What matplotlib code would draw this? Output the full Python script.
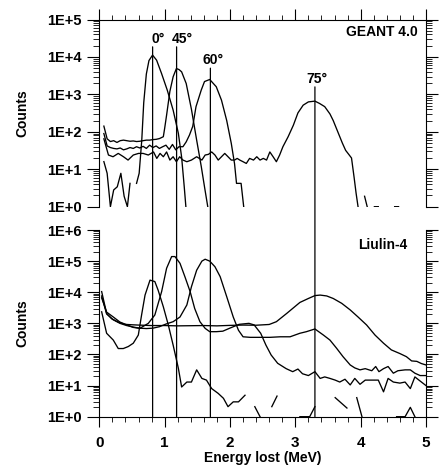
import numpy as np
import matplotlib
matplotlib.use("Agg")
import matplotlib.pyplot as plt
from matplotlib.ticker import FixedLocator, LogLocator, NullFormatter, MultipleLocator
from matplotlib.patches import ConnectionPatch

nan = np.nan

# ---------------- GEANT 4.0 (top panel) ----------------
geant_0_E = [0.07, 0.12, 0.17, 0.22, 0.275, 0.33, 0.38, 0.43, 0.47, 0.52, 0.57, 0.61, 0.65, 0.68,
             0.72, 0.76, 0.815, 0.877, 0.953, 1.04, 1.13, 1.21, 1.26, 1.30, 1.325]
geant_0_N = [16, 7.8, 1, 2.8, 3.4, 7.8, 1.9, 1, 4.2, nan, 4.2, 7.8, 60, 600,
             3500, 8000, 11200, 8200, 3600, 1300, 380, 91, 21, 3.4, 1]

geant_45_E = [0.07, 0.12, 0.17, 0.22, 0.27, 0.32, 0.37, 0.42, 0.47, 0.52, 0.57, 0.62, 0.67, 0.72,
              0.77, 0.82, 0.87, 0.92, 0.98, 1.00, 1.03, 1.08, 1.13, 1.18, 1.22, 1.26, 1.33, 1.41,
              1.49, 1.56, 1.61, 1.66]
geant_45_N = [142, 65, 55, 58, 52, 58, 60, 58, 56, 57, 55, 56, 58, 60,
              60, 62, 63, 66, 74, 123, 280, 1200, 2950, 4900, 4600, 4000, 1950, 400,
              60, 12, 3.4, 1]

geant_60_E = [0.07, 0.12, 0.17, 0.22, 0.27, 0.32, 0.37, 0.42, 0.47, 0.52, 0.57, 0.62, 0.67, 0.72,
              0.77, 0.82, 0.87, 0.92, 0.97, 1.02, 1.07, 1.12, 1.17, 1.22, 1.28, 1.33, 1.38, 1.43,
              1.48, 1.56, 1.61, 1.69, 1.79, 1.87, 1.95, 2.02, 2.07, 2.10, 2.17, 2.21]
geant_60_N = [90, 42, 38, 36, 35, 37, 33, 35, 38, 36, 40, 37, 41, 36,
              44, 38, 42, 36, 40, 44, 34, 46, 33, 40, 40, 54, 82, 140,
              470, 1300, 2200, 2500, 1600, 700, 200, 49, 14, 4.2, 4.2, 1]

geant_75_E = [0.07, 0.14, 0.21, 0.29, 0.37, 0.44, 0.52, 0.60, 0.67, 0.75, 0.83, 0.88, 0.93, 0.98,
              1.03, 1.08, 1.13, 1.18, 1.23, 1.28, 1.34, 1.41, 1.49, 1.57, 1.62, 1.67, 1.72, 1.77,
              1.82, 1.87, 1.92, 1.97, 2.02, 2.07, 2.11, 2.15, 2.20, 2.25, 2.30, 2.36, 2.41, 2.46,
              2.51, 2.56, 2.61, 2.66, 2.71, 2.76, 2.81, 2.89, 2.97, 3.04, 3.12, 3.20, 3.30, 3.37,
              3.45, 3.53, 3.58, 3.65, 3.72, 3.77, 3.81, 3.86, 3.90, 3.93, 3.96, 4.00, 4.06, 4.10,
              4.15, 4.21, 4.27, 4.32, 4.52, 4.58]
geant_75_N = [65, 24, 21.6, 26.5, 21.6, 17.6, 24, 26.5, 26.5, 24, 29, 19.5, 26.5, 21.6,
              29, 17.6, 21.6, 15.9, 21.6, 17.6, 15.9, 17.6, 21.6, 17.6, 24, 25, 29, 24,
              17.6, 21.6, 26.5, 21.6, 17.6, 17.6, 19.5, 17.6, 15.9, 14.3, 19.5, 17.6, 21.6, 17.6,
              19.5, 17.6, 29, 21.6, 15.9, 24, 40, 74, 150, 320, 515, 630, 660, 573,
              470, 300, 200, 100, 50, 32, 26, 20, 6, 2.3, 1, nan, 1.9, 1,
              nan, 1, 1, nan, 1, 1]

# ---------------- Liulin-4 (bottom panel) ----------------
liulin_0_E = [0.036, 0.112, 0.214, 0.29, 0.367, 0.444, 0.52, 0.597, 0.648, 0.70, 0.776, 0.85, 0.90,
              0.98, 1.056, 1.13, 1.21, 1.26, 1.34, 1.41, 1.49, 1.57, 1.64, 1.72, 1.82, 1.90, 1.97,
              2.05, 2.13, 2.23, 2.30, 2.38, 2.46, 2.55, 2.64, 2.72, 2.90, 3.07, 3.22, 3.30, 3.45,
              3.61, 3.79, 3.86, 3.94, 4.02, 4.30, 4.55, 4.68, 4.76, 4.83]
liulin_0_N = [2350, 480, 290, 155, 155, 180, 230, 420, 1900, 8100, 24500, 22000, 11700,
              3400, 890, 200, 36, 9, 13, 13, 32, 17, 15, 8, 5.6, 3.9, 2.1,
              3, 3, 4.9, nan, 2.1, 1, nan, 2.1, 4.6, nan, 1, 1, 2.1, nan,
              4.1, 1.9, nan, 4.1, 1, nan, 1, 1, 2, 1]

liulin_45_E = [0.036, 0.112, 0.214, 0.316, 0.418, 0.52, 0.62, 0.75, 0.85, 0.954, 1.03, 1.107, 1.158,
               1.235, 1.31, 1.39, 1.46, 1.54, 1.62, 1.69, 1.79, 1.89, 1.99, 2.14, 2.29, 2.37, 2.47,
               2.55, 2.63, 2.73, 2.86, 2.96, 3.04, 3.11, 3.20, 3.30, 3.38, 3.45, 3.53, 3.61, 3.68,
               3.76, 3.84, 3.91, 3.99, 4.07, 4.17, 4.27, 4.35, 4.42, 4.50, 4.60, 4.68, 4.76, 4.83,
               4.91, 5.0]
liulin_45_N = [6600, 2300, 1600, 1100, 900, 740, 690, 1000, 1860, 10500, 59000, 140000, 140000,
               85000, 31600, 10500, 3000, 1130, 690, 540, 540, 560, 690, 930, 1000, 890, 480,
               200, 96, 52, 35, 28, 34, 24, 21, 28, 17, 19, 17, 15, 13,
               16, 10.5, 17, 11, 15, 15, 15, 6.3, 17, 13, 12, 13, 8, 19,
               14, 10]

liulin_60_E = [0.036, 0.112, 0.214, 0.316, 0.418, 0.52, 0.62, 0.72, 0.82, 0.92, 1.02, 1.13, 1.235,
               1.34, 1.41, 1.49, 1.57, 1.62, 1.69, 1.77, 1.85, 1.95, 2.05, 2.13, 2.20, 2.31, 2.46,
               2.61, 2.77, 2.92, 3.07, 3.17, 3.30, 3.43, 3.53, 3.63, 3.73, 3.84, 3.91, 3.99, 4.07,
               4.17, 4.23, 4.28, 4.35, 4.42, 4.50, 4.57, 4.68, 4.76, 4.83, 4.91, 5.0]
liulin_60_N = [7600, 2000, 1300, 1000, 850, 760, 700, 680, 700, 780, 950, 1130, 1600,
               3900, 15000, 51000, 100000, 115000, 100000, 66000, 31600, 7200, 1600, 600, 370, 355, 355,
               355, 370, 370, 480, 540, 660, 420, 290, 160, 85, 46, 37, 32, 35,
               30, 41, 28, 35, 41, 25, 30, 32, 32, 25, 21, 21]

liulin_75_E = [0.036, 0.112, 0.19, 0.29, 0.39, 0.5, 0.6, 0.8, 1.0, 1.2, 1.4, 1.6, 1.8, 2.0, 2.2,
               2.4, 2.6, 2.71, 2.87, 3.07, 3.20, 3.30, 3.38, 3.48, 3.58, 3.71, 3.84, 3.96, 4.09,
               4.22, 4.35, 4.47, 4.60, 4.70, 4.78, 4.86, 4.93, 5.0]
liulin_75_N = [10500, 2100, 1400, 1100, 930, 900, 880, 850, 850, 830, 840, 850, 830, 860, 880,
               870, 920, 1130, 2100, 4700, 6300, 7800, 8100, 7600, 6300, 4400, 2700, 1600, 890,
               420, 230, 140, 107, 85, 62, 60, 51, 46]

# angle markers
angle_labels = ["0°", "45°", "60°", "75°"]
angle_E = [0.816, 1.183, 1.70, 3.30]
angle_top = [10 ** 4.27, 10 ** 4.27, 10 ** 3.70, 10 ** 3.20]

top_ytick_labels = ["1E+0", "1E+1", "1E+2", "1E+3", "1E+4", "1E+5"]
bot_ytick_labels = ["1E+0", "1E+1", "1E+2", "1E+3", "1E+4", "1E+5", "1E+6"]
xtick_labels = ["0", "1", "2", "3", "4", "5"]

plt.rcParams["font.family"] = ["Liberation Sans", "DejaVu Sans"]
plt.rcParams["font.weight"] = "bold"

W, H = 448, 469
fig = plt.figure(figsize=(W / 100, H / 100), dpi=100)
L, R = 99.3, 426.0
ax1 = fig.add_axes([L / W, 1 - 206.7 / H, (R - L) / W, (206.7 - 19.5) / H])
ax2 = fig.add_axes([L / W, 1 - 416.7 / H, (R - L) / W, (416.7 - 230.0) / H])

lw = 0.95
for E, N in [(geant_0_E, geant_0_N), (geant_45_E, geant_45_N),
             (geant_60_E, geant_60_N), (geant_75_E, geant_75_N)]:
    ax1.plot(E, N, color="black", lw=lw)
for E, N in [(liulin_0_E, liulin_0_N), (liulin_45_E, liulin_45_N),
             (liulin_60_E, liulin_60_N), (liulin_75_E, liulin_75_N)]:
    ax2.plot(E, N, color="black", lw=lw)

for ax, nlab, labels in [(ax1, 6, top_ytick_labels), (ax2, 7, bot_ytick_labels)]:
    ax.set_yscale("log")
    ax.set_xlim(0, 5)
    ax.set_ylim(1, 10 ** (nlab - 1))
    ax.yaxis.set_major_locator(FixedLocator(10.0 ** np.arange(nlab)))
    ax.set_yticklabels(labels)
    ax.yaxis.set_minor_locator(LogLocator(base=10, subs=np.arange(2, 10), numticks=100))
    ax.yaxis.set_minor_formatter(NullFormatter())
    ax.tick_params(axis="y", which="both", direction="out", left=True, right=True,
                   labelleft=True, labelright=False)
    ax.tick_params(axis="y", which="major", length=8.6, width=0.8, pad=4, labelsize=10.5)
    ax.tick_params(axis="y", which="minor", length=4.0, width=0.6)
    ax.xaxis.set_major_locator(MultipleLocator(1))
    ax.xaxis.set_minor_locator(MultipleLocator(0.2))
    ax.set_ylabel("Counts", fontsize=10, fontweight="bold")
    ax.yaxis.set_label_coords((29 - L) / (R - L), 0.5)
    for s in ax.spines.values():
        s.set_linewidth(0.8)

ax1.spines["bottom"].set_visible(False)
ax1.tick_params(axis="x", which="both", direction="out", top=True, bottom=False,
                labelbottom=False, labeltop=False)
ax1.tick_params(axis="x", which="major", length=8, width=0.8)
ax1.tick_params(axis="x", which="minor", length=3.3, width=0.6)

ax2.spines["top"].set_visible(False)
ax2.tick_params(axis="x", which="both", direction="out", top=False, bottom=True)
ax2.tick_params(axis="x", which="major", length=7.2, width=0.8, pad=7, labelsize=11)
ax2.tick_params(axis="x", which="minor", length=3.6, width=0.6)
ax2.set_xticks(range(len(xtick_labels)))
ax2.set_xticklabels(xtick_labels)
ax2.set_xlabel("Energy lost (MeV)", fontsize=10, fontweight="bold")
ax2.xaxis.set_label_coords(0.5, -0.185)

ax1.text(0.9755, 0.931, "GEANT 4.0", transform=ax1.transAxes, ha="right", va="center",
         fontsize=10, fontweight="bold")
ax2.text(0.943, 0.92, "Liulin-4", transform=ax2.transAxes, ha="right", va="center",
         fontsize=10, fontweight="bold")

label_dx = [4.0, 4.0, 2.2, 1.7]
for lab, x, top, dx in zip(angle_labels, angle_E, angle_top, label_dx):
    con = ConnectionPatch(xyA=(x, top), coordsA=ax1.transData,
                          xyB=(x, 1), coordsB=ax2.transData,
                          color="black", lw=0.9)
    fig.add_artist(con)
    ax1.annotate(lab, xy=(x, top), xytext=(dx, 0.5), textcoords="offset points",
                 ha="center", va="bottom", fontsize=10, fontweight="bold",
                 annotation_clip=False)

fig.savefig("out.png", dpi=100)
